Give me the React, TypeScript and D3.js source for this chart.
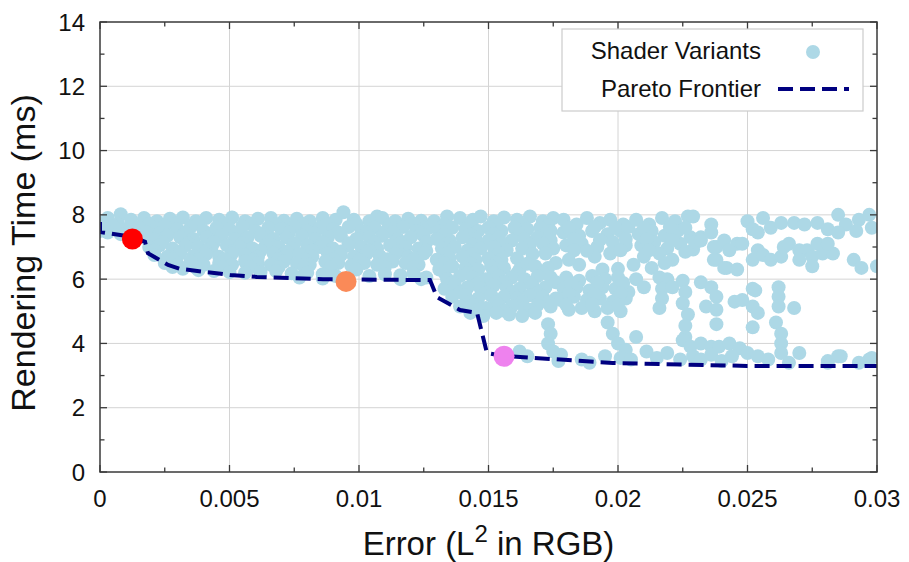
import React from "react";
import * as d3 from "d3";

const errorTicks = [0, 0.005, 0.01, 0.015, 0.02, 0.025, 0.03];
const errorTickLabels = ["0", "0.005", "0.01", "0.015", "0.02", "0.025", "0.03"];
const timeTicks = [0, 2, 4, 6, 8, 10, 12, 14];
const timeTickLabels = ["0", "2", "4", "6", "8", "10", "12", "14"];

const paretoError = [0, 0, 0.00127, 0.00174, 0.00185, 0.00263, 0.00309, 0.00502, 0.00606, 0.00861, 0.01274, 0.01301, 0.0139, 0.01456, 0.01494, 0.01556, 0.01622, 0.0198, 0.02498, 0.03];
const paretoTime = [7.78, 7.47, 7.31, 7.16, 6.81, 6.44, 6.32, 6.13, 6.07, 6.0, 5.97, 5.44, 5.04, 4.95, 3.7, 3.61, 3.58, 3.39, 3.3, 3.3];

const highlightError = [0.00125, 0.0095, 0.0156];
const highlightTime = [7.25, 5.93, 3.6];

const variants: [number, number][] = [
  // low error band, top rows
  [0.0, 7.75], [0.0003, 7.9], [0.0008, 8.02], [0.0012, 7.85], [0.0017, 7.9], [0.0022, 7.8], [0.0027, 7.88], [0.0032, 7.92],
  [0.0037, 7.8], [0.0041, 7.9], [0.0046, 7.85], [0.0051, 7.92], [0.0056, 7.8], [0.0061, 7.88], [0.0066, 7.9], [0.0071, 7.82],
  [0.0076, 7.88], [0.0081, 7.8], [0.0086, 7.9], [0.0091, 7.85], [0.0094, 8.08], [0.0098, 7.85], [0.0104, 7.8], [0.0107, 7.95],
  [0.0109, 7.9], [0.0114, 7.8], [0.0119, 7.88], [0.0124, 7.82], [0.0125, 7.6],
  [0.0007, 7.72], [0.0019, 7.72], [0.0029, 7.7], [0.0038, 7.72], [0.0048, 7.7], [0.0058, 7.72], [0.0068, 7.7], [0.0078, 7.72],
  [0.0088, 7.7], [0.0099, 7.72], [0.0112, 7.7], [0.0121, 7.72],
  [0.0001, 7.6], [0.0005, 7.65], [0.001, 7.55], [0.0015, 7.6], [0.002, 7.5], [0.0025, 7.65], [0.003, 7.55], [0.0035, 7.62],
  [0.004, 7.5], [0.0045, 7.6], [0.005, 7.55], [0.0055, 7.65], [0.006, 7.5], [0.0065, 7.6], [0.007, 7.55], [0.0075, 7.65],
  [0.008, 7.5], [0.0085, 7.6], [0.009, 7.55], [0.0096, 7.62], [0.0101, 7.5], [0.0106, 7.6], [0.0111, 7.55], [0.0117, 7.62],
  [0.0122, 7.5], [0.0127, 7.6],
  [0.0, 7.5], [0.0003, 7.45], [0.0008, 7.4],
  [0.0018, 7.45], [0.0023, 7.42], [0.0033, 7.45], [0.0043, 7.42], [0.0053, 7.45], [0.0063, 7.42], [0.0073, 7.45], [0.0083, 7.42],
  [0.0092, 7.45], [0.0103, 7.42], [0.0113, 7.45], [0.0124, 7.42],
  [0.0017, 7.3], [0.0021, 7.25], [0.0026, 7.35], [0.0031, 7.3], [0.0036, 7.25], [0.0041, 7.3], [0.0047, 7.35], [0.0052, 7.25],
  [0.0057, 7.3], [0.0062, 7.35], [0.0067, 7.25], [0.0072, 7.3], [0.0078, 7.35], [0.0083, 7.25], [0.0088, 7.3], [0.0093, 7.35],
  [0.0099, 7.25], [0.0104, 7.3], [0.0109, 7.35], [0.0115, 7.25], [0.012, 7.3], [0.0125, 7.35],
  [0.0024, 7.15], [0.0034, 7.12], [0.0044, 7.15], [0.0055, 7.12], [0.0065, 7.15], [0.0075, 7.12], [0.0086, 7.15], [0.0096, 7.12],
  [0.0106, 7.15], [0.0116, 7.12], [0.0126, 7.15],
  [0.0019, 7.0], [0.0023, 7.05], [0.0028, 6.95], [0.0033, 7.05], [0.0038, 7.0], [0.0043, 6.95], [0.0049, 7.05], [0.0054, 7.0],
  [0.0059, 6.95], [0.0064, 7.05], [0.0069, 7.0], [0.0074, 6.95], [0.008, 7.05], [0.0085, 7.0], [0.009, 6.95], [0.0096, 7.05],
  [0.0101, 7.0], [0.0107, 6.95], [0.0112, 7.05], [0.0118, 7.0], [0.0123, 6.95],
  [0.0021, 6.88], [0.0031, 6.86], [0.0041, 6.88], [0.0051, 6.86], [0.0062, 6.88], [0.0072, 6.86], [0.0082, 6.88], [0.0093, 6.86],
  [0.0104, 6.88], [0.0115, 6.86], [0.0126, 6.88],
  [0.0021, 6.75], [0.0026, 6.7], [0.0031, 6.8], [0.0036, 6.72], [0.0041, 6.78], [0.0046, 6.7], [0.0051, 6.8], [0.0056, 6.75],
  [0.0061, 6.7], [0.0067, 6.8], [0.0072, 6.72], [0.0077, 6.78], [0.0082, 6.7], [0.0088, 6.8], [0.0093, 6.75], [0.0098, 6.7],
  [0.0103, 6.8], [0.0108, 6.72], [0.0114, 6.78], [0.0119, 6.7], [0.0125, 6.8],
  [0.0028, 6.62], [0.0038, 6.6], [0.0048, 6.62], [0.0059, 6.6], [0.0069, 6.62], [0.0079, 6.6], [0.009, 6.62], [0.01, 6.6],
  [0.0111, 6.62], [0.0121, 6.6],
  [0.0025, 6.5], [0.003, 6.45], [0.0035, 6.55], [0.004, 6.45], [0.0046, 6.5], [0.0051, 6.45], [0.0056, 6.55], [0.0061, 6.5],
  [0.0066, 6.45], [0.0071, 6.55], [0.0076, 6.5], [0.0081, 6.45], [0.0087, 6.55], [0.0092, 6.5], [0.0097, 6.42], [0.0102, 6.5],
  [0.0107, 6.45], [0.0113, 6.55], [0.0118, 6.5], [0.0123, 6.45],
  [0.0028, 6.38], [0.0037, 6.36], [0.0047, 6.38], [0.0058, 6.36], [0.0069, 6.38], [0.0079, 6.36], [0.0089, 6.38], [0.0099, 6.3],
  [0.011, 6.38], [0.0121, 6.36],
  [0.0032, 6.32], [0.0038, 6.28], [0.0044, 6.25], [0.005, 6.22], [0.0056, 6.2], [0.0062, 6.22], [0.0068, 6.25], [0.0074, 6.18],
  [0.008, 6.2], [0.0086, 6.15], [0.0091, 6.1], [0.0104, 6.1], [0.011, 6.15], [0.0116, 6.12], [0.0121, 6.18], [0.0126, 6.05],
  [0.0077, 6.05], [0.0086, 6.02], [0.0116, 6.0], [0.0124, 6.0],
  // middle error band
  [0.0129, 7.8], [0.0134, 7.95], [0.0139, 7.9], [0.0144, 7.85], [0.0147, 7.95], [0.0152, 7.8], [0.0156, 7.92], [0.0161, 7.85],
  [0.0166, 7.95], [0.0171, 7.8], [0.0175, 7.9],
  [0.0133, 7.7], [0.0143, 7.7], [0.0153, 7.68], [0.0163, 7.7], [0.0173, 7.68],
  [0.0131, 7.5], [0.0136, 7.6], [0.0141, 7.55], [0.0146, 7.5], [0.015, 7.6], [0.0155, 7.5], [0.016, 7.6], [0.0165, 7.55],
  [0.017, 7.6], [0.0174, 7.5],
  [0.0133, 7.4], [0.0143, 7.38], [0.0152, 7.4], [0.0162, 7.38], [0.0172, 7.4],
  [0.013, 7.25], [0.0135, 7.2], [0.014, 7.3], [0.0145, 7.25], [0.015, 7.2], [0.0154, 7.3], [0.0159, 7.2], [0.0164, 7.25],
  [0.0169, 7.3], [0.0174, 7.2],
  [0.0134, 7.1], [0.0144, 7.08], [0.0155, 7.1], [0.0166, 7.08], [0.0171, 7.1],
  [0.0132, 6.95], [0.0137, 7.0], [0.0142, 6.9], [0.0147, 6.95], [0.0152, 7.0], [0.0157, 6.9], [0.0163, 6.95], [0.0175, 6.95],
  [0.0134, 6.8], [0.0144, 6.78], [0.0154, 6.8], [0.0167, 6.78], [0.0172, 6.8],
  [0.013, 6.6], [0.0135, 6.65], [0.014, 6.7], [0.0145, 6.6], [0.015, 6.65], [0.0155, 6.6], [0.0161, 6.65],
  [0.0133, 6.5], [0.0143, 6.48], [0.0153, 6.5], [0.0165, 6.48], [0.0176, 6.5],
  [0.0131, 6.3], [0.0136, 6.4], [0.0141, 6.35], [0.0146, 6.3], [0.0151, 6.4], [0.0156, 6.35], [0.0162, 6.3], [0.0168, 6.4],
  [0.0173, 6.35],
  [0.0133, 6.2], [0.0142, 6.18], [0.0152, 6.2], [0.0161, 6.18], [0.0171, 6.2],
  [0.0134, 6.0], [0.0139, 6.1], [0.0144, 6.05], [0.0149, 6.0], [0.0154, 6.1], [0.0159, 6.05], [0.0164, 6.0], [0.0169, 6.1],
  [0.0174, 6.05],
  [0.0136, 5.9], [0.0146, 5.88], [0.0156, 5.9], [0.0166, 5.88], [0.0176, 5.9],
  [0.0133, 5.7], [0.0137, 5.8], [0.0142, 5.75], [0.0147, 5.7], [0.0152, 5.8], [0.0157, 5.75], [0.0162, 5.7], [0.0167, 5.8],
  [0.0172, 5.75],
  [0.0139, 5.6], [0.0149, 5.58], [0.0159, 5.6], [0.0169, 5.58],
  [0.0136, 5.45], [0.0141, 5.5], [0.0146, 5.4], [0.0151, 5.5], [0.0156, 5.45], [0.0161, 5.4], [0.0166, 5.5], [0.0171, 5.45],
  [0.0176, 5.4],
  [0.0143, 5.3], [0.0153, 5.28], [0.0163, 5.3], [0.0173, 5.28],
  [0.0139, 5.15], [0.0144, 5.2], [0.0149, 5.1], [0.0154, 5.2], [0.0159, 5.15], [0.0164, 5.1], [0.0169, 5.2], [0.0174, 5.15],
  [0.0146, 5.05], [0.0156, 5.02], [0.0166, 5.05],
  [0.0143, 4.95], [0.0148, 4.85], [0.0153, 4.95], [0.0158, 4.9], [0.0163, 4.85], [0.0168, 4.95],
  [0.0179, 7.85], [0.0184, 7.7], [0.0188, 7.9], [0.0193, 7.75], [0.0197, 7.85], [0.0202, 7.7], [0.0179, 7.45], [0.0185, 7.35],
  [0.019, 7.5], [0.0196, 7.4], [0.0201, 7.5], [0.018, 7.05], [0.0186, 7.1], [0.0192, 7.0], [0.0198, 7.15], [0.0203, 7.05],
  [0.0191, 6.7], [0.0197, 6.8], [0.0185, 6.45],
  [0.0181, 7.6], [0.0191, 7.62], [0.0199, 7.6], [0.0204, 7.62], [0.0183, 7.25], [0.0193, 7.22], [0.0203, 7.25],
  [0.0183, 6.9], [0.0188, 6.88], [0.0201, 6.9], [0.0181, 6.6], [0.0194, 6.3], [0.02, 6.32],
  [0.018, 6.05], [0.0185, 5.95], [0.019, 6.1], [0.0195, 6.0], [0.02, 6.05], [0.0179, 5.7], [0.0184, 5.75], [0.0189, 5.65],
  [0.0194, 5.75], [0.0199, 5.7], [0.0204, 5.6], [0.0178, 5.35], [0.0183, 5.45], [0.0188, 5.35], [0.0193, 5.4], [0.0198, 5.3],
  [0.0203, 5.4], [0.0181, 5.05], [0.0186, 5.1], [0.0191, 5.0], [0.0196, 5.1], [0.0201, 5.0],
  [0.0182, 5.88], [0.0192, 5.9], [0.0202, 5.88], [0.0181, 5.55], [0.0191, 5.52], [0.0201, 5.55], [0.018, 5.2], [0.019, 5.22],
  [0.02, 5.2],
  [0.0173, 4.6], [0.0174, 4.3], [0.0173, 4.0], [0.0175, 3.75], [0.0178, 3.65],
  [0.0196, 4.65], [0.0198, 4.3], [0.02, 4.0], [0.0203, 3.8], [0.0195, 3.6], [0.0201, 3.55], [0.0205, 3.5], [0.0207, 4.2],
  [0.0211, 3.75], [0.0215, 3.55], [0.0219, 3.7], [0.0224, 3.5],
  [0.0162, 3.75], [0.0165, 3.6], [0.0177, 3.45], [0.0186, 3.5], [0.0189, 3.4],
  // high error region
  [0.0207, 7.85], [0.0212, 7.7], [0.0217, 7.9], [0.0222, 7.8], [0.0227, 7.95], [0.0208, 7.4], [0.0213, 7.5], [0.0218, 7.35],
  [0.0223, 7.5], [0.0228, 7.3], [0.0209, 7.05], [0.0214, 7.15], [0.0219, 6.95], [0.0224, 7.1], [0.021, 6.7], [0.0216, 6.8],
  [0.0221, 6.6], [0.0226, 6.85], [0.0206, 6.45], [0.0213, 6.35],
  [0.021, 7.6], [0.022, 7.62], [0.0226, 7.6], [0.0211, 7.25], [0.0221, 7.22], [0.0212, 6.9], [0.0229, 6.92], [0.0218, 6.5],
  [0.0236, 7.7], [0.0232, 7.3], [0.0237, 7.0], [0.0238, 6.6], [0.0242, 6.35], [0.0246, 6.3], [0.0246, 7.1],
  [0.0229, 7.95], [0.025, 7.8], [0.0252, 7.55], [0.0256, 7.9], [0.0259, 7.6], [0.0263, 7.75], [0.0268, 7.75], [0.0272, 7.7],
  [0.0277, 7.75], [0.0281, 7.55], [0.0285, 8.0], [0.0288, 7.7], [0.0293, 7.85], [0.0297, 8.0], [0.0298, 7.6], [0.0254, 7.45],
  [0.0285, 7.45], [0.0292, 7.5],
  [0.023, 7.15], [0.0232, 7.2], [0.0236, 7.45], [0.0238, 7.0], [0.0241, 7.2], [0.0243, 6.9], [0.0248, 7.1], [0.0237, 6.6],
  [0.0241, 6.35], [0.0252, 6.6], [0.0254, 6.9], [0.0256, 6.75], [0.0259, 6.6], [0.0263, 6.7], [0.0264, 7.0], [0.0266, 7.1],
  [0.027, 6.9], [0.0273, 6.9], [0.0275, 6.7], [0.0277, 7.1], [0.0275, 6.4], [0.0279, 6.8], [0.0283, 6.8], [0.0291, 6.6],
  [0.0294, 6.35], [0.03, 6.4], [0.027, 6.6], [0.0281, 7.1],
  [0.0207, 6.0], [0.021, 5.75], [0.0216, 6.05], [0.0219, 6.0], [0.0217, 5.7], [0.0217, 5.4], [0.0216, 5.1], [0.0221, 5.75],
  [0.0225, 5.95], [0.0226, 5.6], [0.0225, 5.25], [0.0227, 4.9], [0.0226, 4.55], [0.0226, 4.2],
  [0.0232, 5.9], [0.0236, 5.75], [0.0238, 5.45], [0.0234, 5.15], [0.0238, 5.05], [0.0238, 4.6], [0.0245, 5.3], [0.0248, 5.35],
  [0.0252, 5.7], [0.0253, 5.65], [0.0252, 5.15], [0.0254, 4.95], [0.0252, 4.5], [0.0262, 5.75], [0.0262, 5.45], [0.0262, 5.15],
  [0.0261, 4.65], [0.0263, 4.3], [0.0263, 4.0], [0.0263, 3.7], [0.0268, 5.1], [0.027, 3.7],
  [0.0225, 4.1], [0.0228, 3.9], [0.0232, 4.0], [0.0236, 3.9], [0.0239, 3.9], [0.0243, 4.0], [0.0247, 3.85], [0.025, 3.7],
  [0.0254, 3.6], [0.0258, 3.5], [0.0266, 3.4], [0.0281, 3.4], [0.0286, 3.6], [0.0297, 3.5], [0.0229, 3.6],
  [0.0281, 3.45], [0.0285, 3.6], [0.0293, 3.4], [0.0298, 3.55], [0.0232, 3.5], [0.024, 3.45], [0.0244, 3.6], [0.0236, 3.65],
];

const W = 909;
const H = 562;
const margin = { left: 100, right: 877, top: 22, bottom: 472 };
const FONT = "'Liberation Sans', Arial, Helvetica, sans-serif";

export default function App() {
  const x = d3.scaleLinear().domain([0, 0.03]).range([margin.left, margin.right]);
  const y = d3.scaleLinear().domain([0, 14]).range([margin.bottom, margin.top]);
  const minorX = [0.0025, 0.0075, 0.0125, 0.0175, 0.0225, 0.0275];
  const minorY = [1, 3, 5, 7, 9, 11, 13];

  const line = d3
    .line<number>()
    .x((_, i) => x(paretoError[i]))
    .y((_, i) => y(paretoTime[i]));
  const paretoPath = line(paretoError) || "";
  const hlColors = ["#ff0000", "#fa8a58", "#ee82ee"];
  const axisColor = "#3a3a3a";

  return (
    <svg width={W} height={H} style={{ position: "absolute", left: 0, top: 0, background: "#fff" }} fontFamily={FONT}>
      <defs>
        <clipPath id="plotClip">
          <rect x={margin.left} y={margin.top} width={margin.right - margin.left} height={margin.bottom - margin.top} />
        </clipPath>
      </defs>
      {errorTicks.slice(1, -1).map((t) => (
        <line key={"gx" + t} x1={x(t)} x2={x(t)} y1={margin.top} y2={margin.bottom} stroke="#d4d4d4" strokeWidth={1} />
      ))}
      {timeTicks.slice(1, -1).map((t) => (
        <line key={"gy" + t} x1={margin.left} x2={margin.right} y1={y(t)} y2={y(t)} stroke="#d4d4d4" strokeWidth={1} />
      ))}
      <g clipPath="url(#plotClip)">
        {variants.map((d, i) => (
          <circle key={i} cx={x(d[0])} cy={y(d[1])} r={7} fill="#add8e6" />
        ))}
        <path d={paretoPath} fill="none" stroke="#000080" strokeWidth={4} strokeDasharray="15,7" />
        {highlightError.map((e, i) => (
          <circle key={"h" + i} cx={x(e)} cy={y(highlightTime[i])} r={10.5} fill={hlColors[i]} />
        ))}
      </g>
      <rect x={margin.left} y={margin.top} width={margin.right - margin.left} height={margin.bottom - margin.top} fill="none" stroke={axisColor} strokeWidth={1.5} />
      {errorTicks.map((t) => (
        <g key={"tx" + t}>
          <line x1={x(t)} x2={x(t)} y1={margin.bottom} y2={margin.bottom - 7} stroke={axisColor} strokeWidth={1.3} />
          <line x1={x(t)} x2={x(t)} y1={margin.top} y2={margin.top + 7} stroke={axisColor} strokeWidth={1.3} />
        </g>
      ))}
      {minorX.map((t) => (
        <g key={"mx" + t}>
          <line x1={x(t)} x2={x(t)} y1={margin.bottom} y2={margin.bottom - 4.5} stroke={axisColor} strokeWidth={1.3} />
          <line x1={x(t)} x2={x(t)} y1={margin.top} y2={margin.top + 4.5} stroke={axisColor} strokeWidth={1.3} />
        </g>
      ))}
      {timeTicks.map((t) => (
        <g key={"ty" + t}>
          <line x1={margin.left} x2={margin.left + 7} y1={y(t)} y2={y(t)} stroke={axisColor} strokeWidth={1.3} />
          <line x1={margin.right} x2={margin.right - 7} y1={y(t)} y2={y(t)} stroke={axisColor} strokeWidth={1.3} />
        </g>
      ))}
      {minorY.map((t) => (
        <g key={"my" + t}>
          <line x1={margin.left} x2={margin.left + 4.5} y1={y(t)} y2={y(t)} stroke={axisColor} strokeWidth={1.3} />
          <line x1={margin.right} x2={margin.right - 4.5} y1={y(t)} y2={y(t)} stroke={axisColor} strokeWidth={1.3} />
        </g>
      ))}
      {errorTicks.map((t, i) => (
        <text key={"lx" + t} x={x(t)} y={507} textAnchor="middle" fontSize={24} fill="#111">
          {errorTickLabels[i]}
        </text>
      ))}
      {timeTicks.map((t, i) => (
        <text key={"ly" + t} x={85} y={y(t) + 8.6} textAnchor="end" fontSize={24} fill="#111">
          {timeTickLabels[i]}
        </text>
      ))}
      <text x={(margin.left + margin.right) / 2} y={555} textAnchor="middle" fontSize={33} fill="#111">
        Error (L<tspan fontSize={24} dy={-13}>2</tspan>
        <tspan dy={13}> in RGB)</tspan>
      </text>
      <text transform={`translate(35,253) rotate(-90)`} textAnchor="middle" fontSize={34} fill="#111">
        Rendering Time (ms)
      </text>
      <rect x={562} y={29} width={301} height={82} fill="#fff" stroke="#cccccc" strokeWidth={1.2} />
      <text x={761} y={59} textAnchor="end" fontSize={24} fill="#111">
        Shader Variants
      </text>
      <circle cx={813} cy={52} r={7} fill="#add8e6" />
      <text x={761} y={97} textAnchor="end" fontSize={24} fill="#111">
        Pareto Frontier
      </text>
      <line x1={778} x2={849} y1={89} y2={89} stroke="#000080" strokeWidth={4} strokeDasharray="15,7" />
    </svg>
  );
}
